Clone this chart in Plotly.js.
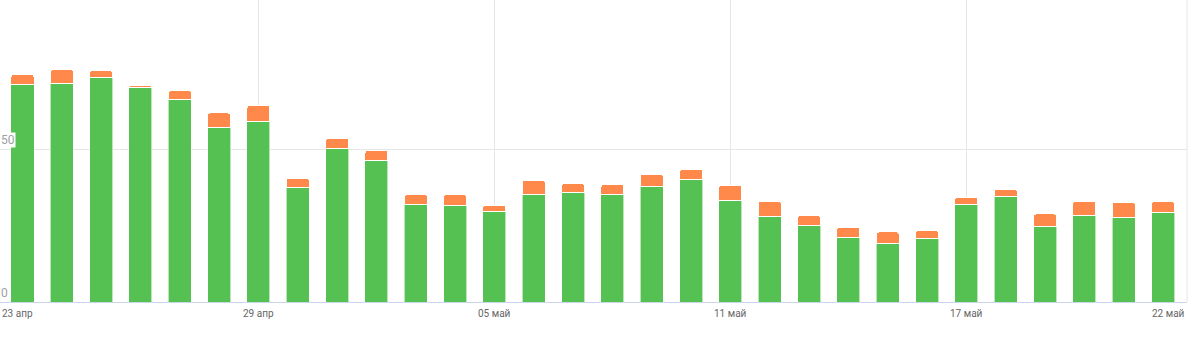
<!DOCTYPE html>
<html>
<head>
<meta charset="utf-8">
<script src="https://cdn.plot.ly/plotly-3.0.1.min.js"></script>
<style>html,body{margin:0;padding:0;background:#fff}#chart{width:1200px;height:352px}</style>
</head>
<body>
<div id="chart"></div>
<script>
const dates = ["23 апр","24 апр","25 апр","26 апр","27 апр","28 апр","29 апр","30 апр","01 май","02 май",
  "03 май","04 май","05 май","06 май","07 май","08 май","09 май","10 май","11 май","12 май",
  "13 май","14 май","15 май","16 май","17 май","18 май","19 май","20 май","21 май","22 май"];
const greenVals = [71, 71.5, 73.5, 70, 66.3, 57, 59, 37.5, 50.2, 46.4,
  32, 31.6, 29.7, 35, 35.9, 35, 37.9, 40.1, 33.2, 28,
  25.1, 21.2, 19, 20.6, 32, 34.4, 24.8, 28.3, 27.7, 29.2];
const orangeVals = [3.5, 4.5, 2.2, 0.9, 2.8, 4.8, 5.3, 2.9, 3.3, 3.2,
  3.1, 3.5, 2.0, 4.8, 2.8, 3.5, 3.8, 3.3, 5.0, 4.9,
  3.3, 3.3, 3.9, 2.8, 2.3, 2.4, 4.0, 4.6, 4.9, 3.7];
const tickLabels = ["23 апр","29 апр","05 май","11 май","17 май","22 май"];
const gridDates = ["29 апр","05 май","11 май","17 май"];
const yTicks = [0, 50];

const traces = [
  {type:'bar', x:dates, y:greenVals, width:0.585, marker:{color:'#54c152', line:{color:'rgba(255,255,255,0.6)', width:1}}, hoverinfo:'skip'},
  {type:'bar', x:dates, y:orangeVals, width:0.585, marker:{color:'#ff884b', line:{color:'#ffffff', width:1}}, hoverinfo:'skip'}
];

const annotations = [];
tickLabels.forEach((t,i)=>{
  const a = {text:t, yref:'paper', y:0, yanchor:'top', yshift:-4, showarrow:false,
    font:{family:'Roboto, sans-serif', size:10, color:'#666'}};
  if(i===0){ a.xref='paper'; a.x=0; a.xanchor='left'; }
  else if(i===tickLabels.length-1){ a.xref='paper'; a.x=1; a.xanchor='right'; }
  else { a.xref='x'; a.x=t; a.xanchor='center'; }
  annotations.push(a);
});
yTicks.forEach(v=>{
  annotations.push({text:String(v), xref:'paper', x:0, xanchor:'left', yref:'y', y:v, yanchor:'bottom', yshift:1,
    showarrow:false, bgcolor:'#ffffff', borderpad:0,
    font:{family:'Roboto, sans-serif', size:12, color:'#a0a0a0'}});
});

const layout = {
  width:1200, height:352,
  margin:{l:0, r:13, t:0, b:50},
  paper_bgcolor:'#fff', plot_bgcolor:'#fff',
  barmode:'stack', barcornerradius:3, showlegend:false,
  xaxis:{type:'category', range:[-0.572, 29.61], tickvals:gridDates, showticklabels:false,
    showgrid:true, gridcolor:'#e6e6e6', gridwidth:1, ticks:'', showline:true, linecolor:'#ccd6eb', linewidth:1,
    zeroline:false, fixedrange:true},
  yaxis:{range:[0, 98.7], tickvals:[50], showticklabels:false, showgrid:true, gridcolor:'#e6e6e6',
    zeroline:false, showline:false, fixedrange:true},
  shapes:[{type:'line', xref:'paper', yref:'paper', x0:1, x1:1, y0:0, y1:1, line:{color:'#e6e6e6', width:1}, layer:'below'}],
  annotations:annotations
};
Plotly.newPlot('chart', traces, layout, {displayModeBar:false, staticPlot:true});
</script>
</body>
</html>
